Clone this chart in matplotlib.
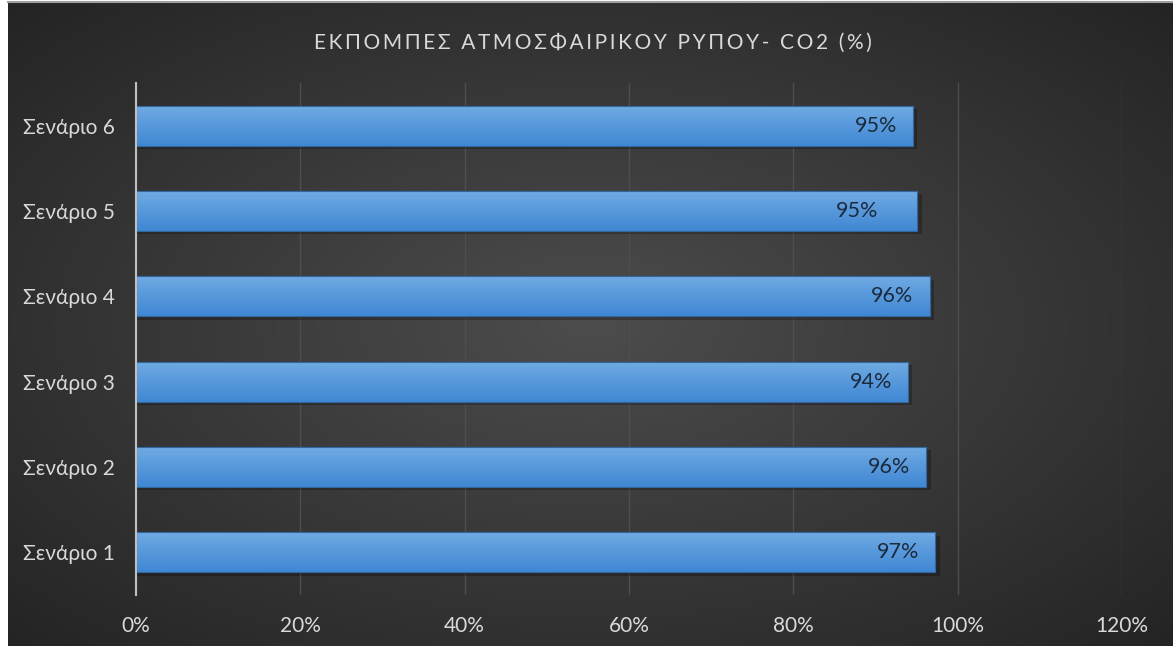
import numpy as np
import matplotlib
matplotlib.use("Agg")
import matplotlib.pyplot as plt
from matplotlib.patches import Rectangle

# ---- data ----
categories = ["Σενάριο 1", "Σενάριο 2", "Σενάριο 3", "Σενάριο 4", "Σενάριο 5", "Σενάριο 6"]
values = [97.3, 96.2, 94.0, 96.6, 95.1, 94.6]
value_labels = ["97%", "96%", "94%", "96%", "95%", "95%"]
xticks = [0, 20, 40, 60, 80, 100, 120]
xtick_labels = ["0%", "20%", "40%", "60%", "80%", "100%", "120%"]
title = "ΕΚΠΟΜΠΕΣ ΑΤΜΟΣΦΑΙΡΙΚΟΥ ΡΥΠΟΥ- CO2 (%)"

plt.rcParams['font.family'] = ['Lato', 'Open Sans', 'DejaVu Sans']

W, H = 1173, 646
fig = plt.figure(figsize=(W / 100, H / 100), dpi=100, facecolor="white")

# background with radial gradient
bg = fig.add_axes([8 / W, 0, 1 - 8 / W, 1 - 3 / H])
bg.set_axis_off()
yy, xx = np.mgrid[0:1:300j, 0:1:600j]
r = np.sqrt(((xx - 0.5) / 0.75) ** 2 + ((yy - 0.5) / 0.75) ** 2)
r = np.clip(r / 0.95, 0, 1)
c_in = np.array([0.30, 0.30, 0.30])
c_out = np.array([0.14, 0.14, 0.14])
img = c_in[None, None, :] * (1 - r[..., None]) + c_out[None, None, :] * r[..., None]
bg.imshow(img, aspect="auto", extent=[0, 1, 0, 1], interpolation="bilinear")
bg.set_xlim(0, 1)
bg.set_ylim(0, 1)
fig.add_artist(plt.Line2D([8 / W, 1], [1 - 2 / H, 1 - 2 / H], color="#a0a0a0", lw=1.5, transform=fig.transFigure))

# plot axes
left_px, right_px = 136, 1122
top_px, bot_px = 83, 595
ax = fig.add_axes([left_px / W, 1 - bot_px / H, (right_px - left_px) / W, (bot_px - top_px) / H])
ax.patch.set_alpha(0)

y = np.arange(len(categories))
bars = ax.barh(y, values, height=0.47, color="#5597dc", edgecolor="#2f5f95", linewidth=0.8, zorder=3)

# gradient fill within each bar
grad = np.linspace(0, 1, 64)[:, None]
top_c = np.array([0.44, 0.67, 0.89])
bot_c = np.array([0.25, 0.53, 0.83])
gimg = top_c[None, None, :] * (1 - grad[..., None]) + bot_c[None, None, :] * grad[..., None]
gimg = np.repeat(gimg, 2, axis=1)
for b in bars:
    x0, y0 = b.get_x(), b.get_y()
    w, h = b.get_width(), b.get_height()
    sh = Rectangle((x0, y0 - 0.04), w + 0.5, h, facecolor="black", alpha=0.25, zorder=2, lw=0)
    ax.add_patch(sh)
    im = ax.imshow(gimg, extent=[x0, x0 + w, y0, y0 + h], aspect="auto", zorder=3.5, origin="upper")
    im.set_clip_path(b)
    edge = Rectangle((x0, y0), w, h, facecolor="none", edgecolor="#34669e", lw=0.8, zorder=4)
    ax.add_patch(edge)

# data labels
label_offsets = [-2.0, -2.0, -2.0, -2.0, -7.3, -2.0]
for yi, v, lab, off in zip(y, values, value_labels, label_offsets):
    ha = "center" if off < -5 else "right"
    ax.text(v + off, yi, lab, ha=ha, va="center", fontsize=15.5, color="#1b2a3d", zorder=5)

ax.set_xlim(0, 120)
ax.set_ylim(-0.5, len(categories) - 0.5)
ax.set_xticks(xticks)
ax.set_xticklabels(xtick_labels)
ax.set_yticks(y)
ax.set_yticklabels(categories)
ax.tick_params(axis="both", length=0, colors="#d9d9d9", labelsize=15)
ax.tick_params(axis="x", pad=15)
ax.tick_params(axis="y", pad=15)
ax.grid(axis="x", color="#4e4e4e", lw=1, zorder=0)
for s in ["top", "right", "bottom"]:
    ax.spines[s].set_visible(False)
ax.spines["left"].set_color("#bfbfbf")
ax.spines["left"].set_linewidth(1.5)
ax.spines["left"].set_zorder(6)

spaced = "\u2009".join(title)
fig.text(593 / W, 1 - 43 / H, spaced, ha="center", va="center", fontsize=15, color="#d9d9d9")

fig.savefig("out.png", dpi=100, facecolor=fig.get_facecolor())
